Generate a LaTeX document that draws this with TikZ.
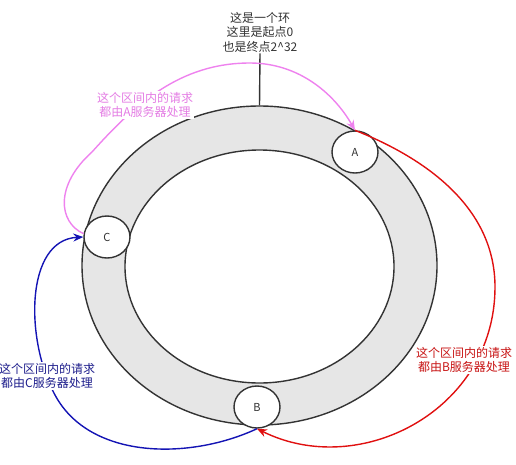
\documentclass[tikz,border=0pt]{standalone}
\usepackage{fontspec}
\setmainfont{Noto Sans CJK SC}
\usetikzlibrary{shapes.geometric,arrows.meta}
\definecolor{ringline}{HTML}{333333}
\definecolor{ringfill}{HTML}{E6E6E6}
\definecolor{pinkline}{HTML}{EE82EE}
\definecolor{pinktext}{HTML}{E47DE4}
\definecolor{redline}{HTML}{E01010}
\definecolor{redtext}{HTML}{C81414}
\definecolor{blueline}{HTML}{1414B4}
\definecolor{bluetext}{HTML}{1E1E8C}
\tikzset{
  ringshape/.style={ellipse, draw=ringline, line width=1.4pt, inner sep=0pt},
  server/.style={ellipse, draw=ringline, line width=1.4pt, fill=white, minimum width=46pt, minimum height=42pt, inner sep=0pt, font=\fontsize{11}{13}\selectfont, text=ringline},
  lbl/.style={align=center, font=\fontsize{12}{14.5}\selectfont, inner sep=1pt},
  conn/.style={line width=1.4pt, -{Stealth[length=10pt,width=8pt]}},
}
\begin{document}
\begin{tikzpicture}[x=1pt,y=-1pt]
\useasboundingbox (0,0) rectangle (516,464);
% ring
\node[ringshape, fill=ringfill, minimum width=355pt, minimum height=319pt] (outer) at (259.5,265.5) {};
\node[ringshape, fill=white, minimum width=269pt, minimum height=233pt] (inner) at (259.5,266.5) {};
% servers
\node[server] (A) at (355,152) {A};
\node[server] (B) at (257,407) {B};
\node[server] (C) at (107,237) {C};
% top label and line
\node[lbl, text=ringline] (top) at (260,32) {这是一个环\\这里是起点0\\也是终点2\textasciicircum32};
\draw[ringline, line width=1.4pt] (outer.north) -- (top.south);
% pink: C -> A
\draw[conn, pinkline] (C.172) .. controls (58,222) and (55,185) .. (92,152)
  .. controls (135,104) and (180,63) .. (250,63)
  .. controls (300,63) and (335,95) .. (A.north);
% red: A -> B
\draw[conn, redline] (A.north) .. controls (430,160) and (495,210) .. (495,287)
  .. controls (495,410) and (360,480) .. (B.south);
% blue: B -> C
\draw[conn, blueline] (B.south) .. controls (190,460) and (90,460) .. (55,395)
  .. controls (25,340) and (25,240) .. (C.west);
% labels
\node[lbl, text=pinktext, fill=white] (la) at (145,105) {这个区间内的请求\\都由A服务器处理};
\node[lbl, text=redtext, fill=white] (lb) at (464,360) {这个区间内的请求\\都由B服务器处理};
\node[lbl, text=bluetext, fill=white] (lc) at (47,376) {这个区间内的请求\\都由C服务器处理};
\end{tikzpicture}
\end{document}
